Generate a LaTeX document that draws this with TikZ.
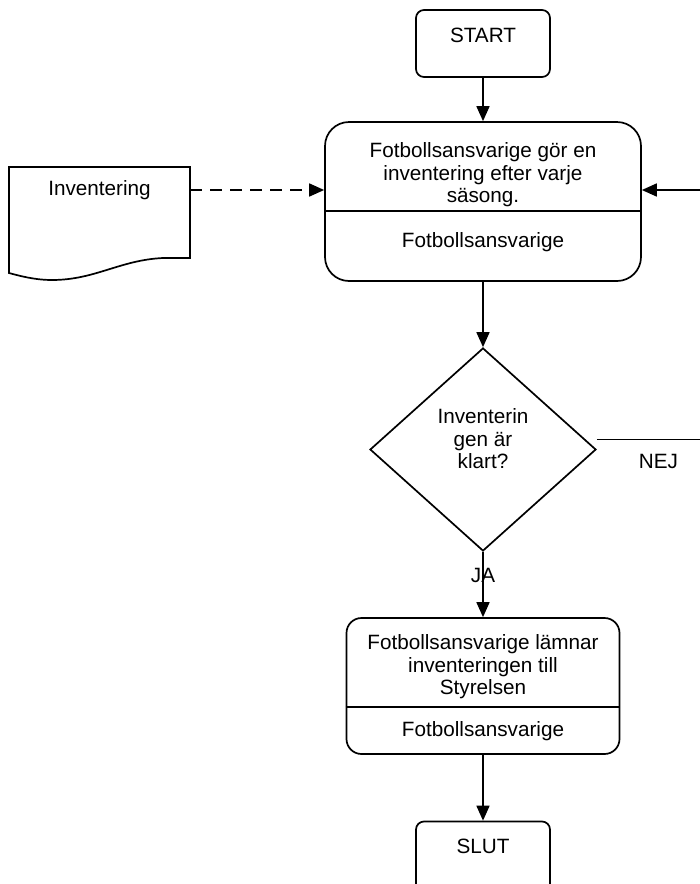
\documentclass[tikz,border=0pt]{standalone}
\usepackage{fontspec}
\setmainfont{Liberation Sans}
\usetikzlibrary{positioning}
\usetikzlibrary{shapes.geometric}
\usetikzlibrary{arrows.meta}
\tikzset{termbox/.style={draw, rounded corners=8pt, minimum width=134pt, text height=32pt, text depth=35pt, inner sep=0pt}}
\tikzset{actbox/.style={draw, rounded corners=#1, inner sep=0pt}}
\tikzset{decision/.style={draw, diamond, minimum width=226pt, minimum height=203pt, inner sep=0pt}}
\tikzset{txt/.style={align=center, inner sep=0pt}}

\begin{document}
\begin{tikzpicture}[x=1pt, y=-1pt, line width=1.7pt, >={Triangle[length=15pt,width=13pt]},
  font=\fontsize{20.7}{22.5}\selectfont]
\useasboundingbox (0,0) rectangle (700,884);
\clip (0,0) rectangle (700,884);
\node[termbox] (start) at (483,43.5) {START};
\node[actbox=24pt, minimum width=316pt, minimum height=159pt] (act1) at (483,201.5) {};
\node[txt] (act1txt) at (483,175) {Fotbollsansvarige gör en\\inventering efter varje\\säsong.};
\node[txt] (act1who) at (483,242) {Fotbollsansvarige};
\draw ([yshift=-90pt]act1.north west) -- ([yshift=-90pt]act1.north east);
%document
\draw (9,167) -- (190,167) -- (190,258) -- (163,258) .. controls (120,260) and (95,280) .. (52,280)
  .. controls (35,280) and (20,276) .. (9,273) -- cycle;
\node[txt] (inv) at (99.5,190) {Inventering};
\coordinate (invR) at (190,190);
\draw[->, dash pattern=on 12pt off 8pt] (invR) -- (inv -| act1.west);
\node[decision] (dec) at (483,449.5) {};
\node[txt] (dectxt) at (483,439) {Inventerin\\gen är\\klart?};
\node[actbox=15pt, minimum width=273pt, minimum height=136pt] (act2) at (483,686) {};
\node[txt] (act2txt) at (483,667) {Fotbollsansvarige lämnar\\inventeringen till\\Styrelsen};
\node[txt] (act2who) at (483,731) {Fotbollsansvarige};
\draw ([yshift=-90pt]act2.north west) -- ([yshift=-90pt]act2.north east);
\node[termbox, text depth=45pt] (slut) at (483,860) {SLUT};
\coordinate (loop) at (720,439.5);
\draw[->] (start) -- (act1);
\draw[->] (act1) -- (dec);
\draw[->] (dec) -- node[pos=0.36, inner sep=0pt] {JA} (act2);
\draw[->] ([yshift=10pt]dec.east) -- node[below=14pt, inner sep=0pt] {NEJ} (loop) |- (inv -| act1.east);
\draw[->] (act2) -- (slut);
\end{tikzpicture}
\end{document}
